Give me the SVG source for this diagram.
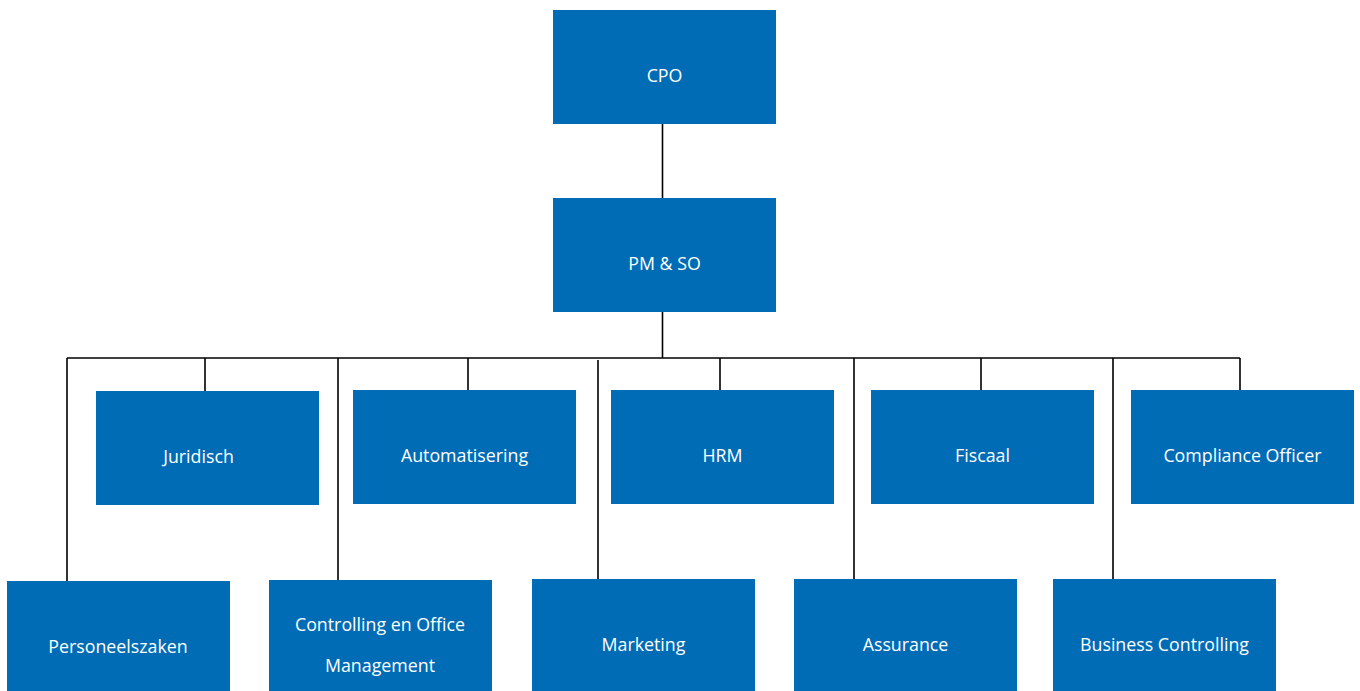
<svg xmlns="http://www.w3.org/2000/svg" width="1360" height="691" viewBox="0 0 1360 691">
<style>
.box{fill:#006CB6;}
.lbl{font-family:"Open Sans","Noto Sans","Liberation Sans",sans-serif;font-size:17.8px;fill:#FFFFFF;text-anchor:middle;}
.ln{stroke:#000000;stroke-width:1.6;fill:none;}
</style>
<rect width="1360" height="691" fill="#FFFFFF"/>
<g id="connectors">
<path class="ln" d="M662.5 124V198M662.5 312V358"/>
<path class="ln" d="M67 358H1240"/>
<path class="ln" d="M205 358V391M468 358V390M720 358V390M981 358V390M1240 358V390"/>
<path class="ln" d="M67 358V581M338 358V580M598 360V579M854 358V579M1113 358V579"/>
</g>
<g id="cpo"><rect class="box" x="553" y="10" width="223" height="114"/><text class="lbl" x="664.5" y="82">CPO</text></g>
<g id="pmso"><rect class="box" x="553" y="198" width="223" height="114"/><text class="lbl" x="664.5" y="270">PM &amp; SO</text></g>
<g id="juridisch"><rect class="box" x="96" y="391" width="223" height="114"/><text class="lbl" x="198.5" y="463">Juridisch</text></g>
<g id="automatisering"><rect class="box" x="353" y="390" width="223" height="114"/><text class="lbl" x="464.5" y="462">Automatisering</text></g>
<g id="hrm"><rect class="box" x="611" y="390" width="223" height="114"/><text class="lbl" x="722.5" y="462">HRM</text></g>
<g id="fiscaal"><rect class="box" x="871" y="390" width="223" height="114"/><text class="lbl" x="982.5" y="462">Fiscaal</text></g>
<g id="compliance"><rect class="box" x="1131" y="390" width="223" height="114"/><text class="lbl" x="1242.5" y="462">Compliance Officer</text></g>
<g id="personeelszaken"><rect class="box" x="7" y="581" width="223" height="110"/><text class="lbl" x="118" y="653">Personeelszaken</text></g>
<g id="controlling"><rect class="box" x="269" y="580" width="223" height="111"/><text class="lbl" x="380" y="631">Controlling en Office</text><text class="lbl" x="380" y="672">Management</text></g>
<g id="marketing"><rect class="box" x="532" y="579" width="223" height="112"/><text class="lbl" x="643.5" y="651">Marketing</text></g>
<g id="assurance"><rect class="box" x="794" y="579" width="223" height="112"/><text class="lbl" x="905.5" y="651">Assurance</text></g>
<g id="business"><rect class="box" x="1053" y="579" width="223" height="112"/><text class="lbl" x="1164.5" y="651">Business Controlling</text></g>
</svg>
